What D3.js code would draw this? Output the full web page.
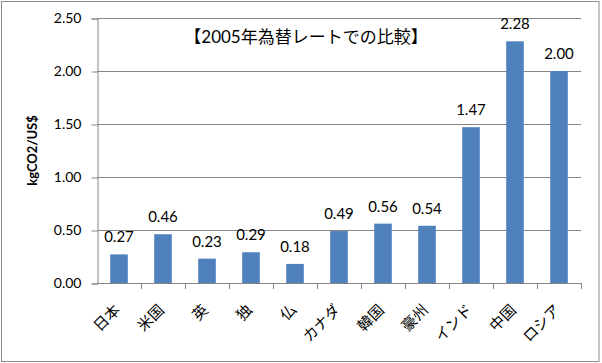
<!DOCTYPE html>
<html>
<head>
<meta charset="utf-8">
<script src="https://cdn.jsdelivr.net/npm/d3@7"></script>
<style>
  body { margin: 0; background: #fff; }
  text { font-family: Lato, "Noto Sans CJK JP", sans-serif; fill: #000; }
</style>
</head>
<body>
<svg id="chart" width="602" height="363"></svg>
<script>
const countries = ["日本", "米国", "英", "独", "仏", "カナダ", "韓国", "豪州", "インド", "中国", "ロシア"];
const values = [0.27, 0.46, 0.23, 0.29, 0.18, 0.49, 0.56, 0.54, 1.47, 2.28, 2.00];
const yTicks = [0, 0.5, 1.0, 1.5, 2.0, 2.5];
const title = "【2005年為替レートでの比較】";
const yTitle = "kgCO2/US$";

const svg = d3.select("#chart");
const plotL = 97, plotR = 581, plotT = 18, plotB = 283;

// outer frame
svg.append("rect")
  .attr("x", 1.5).attr("y", 1.5)
  .attr("width", 597.5).attr("height", 360)
  .attr("fill", "white")
  .attr("stroke", "#8c8c8c")
  .attr("stroke-width", 1);

const x = d3.scaleBand().domain(countries).range([plotL, plotR]).paddingInner(0.6).paddingOuter(0.3);
const xb = d3.scaleBand().domain(countries).range([plotL, plotR]);
const y = d3.scaleLinear().domain([0, 2.5]).range([plotB, plotT]);

// gridlines
svg.append("g")
  .selectAll("line")
  .data(yTicks.slice(1))
  .join("line")
  .attr("x1", plotL).attr("x2", plotR)
  .attr("y1", d => Math.round(y(d)) + 0.5)
  .attr("y2", d => Math.round(y(d)) + 0.5)
  .attr("stroke", "#868686");

// y axis
const yAxis = svg.append("g")
  .attr("transform", `translate(${plotL + 0.5},0.5)`)
  .call(d3.axisLeft(y).tickValues(yTicks).tickFormat(d3.format(".2f")).tickSizeOuter(0).tickSize(6).tickPadding(10));
yAxis.select(".domain").attr("stroke", "#868686");
yAxis.selectAll(".tick line").attr("stroke", "#868686");
yAxis.selectAll("text").attr("font-size", 14).attr("fill", "#000")
  .style("font-family", "Lato, sans-serif");

// x axis line and ticks at category boundaries
svg.append("line")
  .attr("x1", plotL).attr("x2", plotR)
  .attr("y1", plotB + 0.5).attr("y2", plotB + 0.5)
  .attr("stroke", "#868686");
svg.append("g")
  .selectAll("line")
  .data(countries)
  .join("line")
  .attr("x1", d => Math.round(xb(d) + xb.bandwidth()) + 0.5)
  .attr("x2", d => Math.round(xb(d) + xb.bandwidth()) + 0.5)
  .attr("y1", plotB).attr("y2", plotB + 6)
  .attr("stroke", "#868686");

// bars
svg.append("g")
  .selectAll("rect")
  .data(values)
  .join("rect")
  .attr("x", (d, i) => x(countries[i]))
  .attr("width", x.bandwidth())
  .attr("y", d => y(d))
  .attr("height", d => plotB - y(d))
  .attr("fill", "#4f81bd");

// value labels
svg.append("g")
  .selectAll("text")
  .data(values)
  .join("text")
  .attr("x", (d, i) => xb(countries[i]) + xb.bandwidth() / 2)
  .attr("y", d => y(d) - 12)
  .attr("text-anchor", "middle")
  .attr("font-size", 15)
  .text(d => d.toFixed(2));

// category labels
svg.append("g")
  .selectAll("text")
  .data(countries)
  .join("text")
  .attr("transform", d => `translate(${xb(d) + xb.bandwidth() / 2 + 2},${plotB + 28}) rotate(-45)`)
  .attr("text-anchor", "end")
  .attr("font-size", 15)
  .text(d => d);

// title
svg.append("text")
  .attr("x", 306).attr("y", 43)
  .attr("text-anchor", "middle")
  .attr("font-size", 17)
  .text(title);

// y axis title
svg.append("text")
  .attr("transform", `translate(37,${(plotT + plotB) / 2}) rotate(-90)`)
  .attr("text-anchor", "middle")
  .attr("font-size", 13)
  .attr("font-weight", "bold")
  .text(yTitle);
</script>
</body>
</html>
